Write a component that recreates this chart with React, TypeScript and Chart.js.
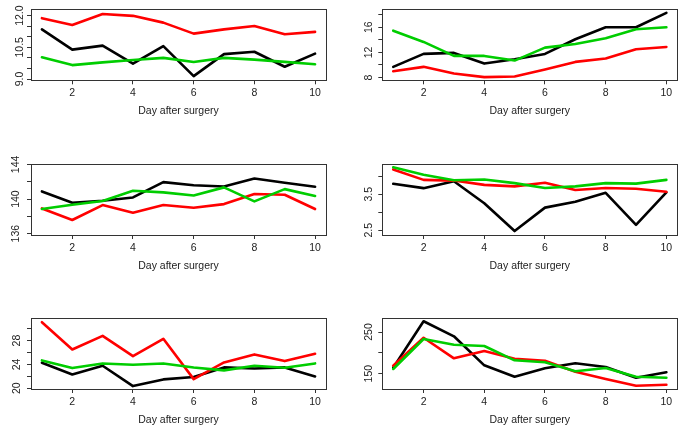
import React, { useEffect, useRef } from 'react';
import { Chart, registerables } from 'chart.js';

Chart.register(...registerables);

const FONT = '"Liberation Sans", Arial, Helvetica, sans-serif';
Chart.defaults.font.family = FONT;
Chart.defaults.font.size = 10.5;

// ---- data ----
const days = [1, 2, 3, 4, 5, 6, 7, 8, 9, 10];
const xTicks = [2, 4, 6, 8, 10];
const xTitle = 'Day after surgery';

const p1Black = [11.35, 10.39, 10.58, 9.73, 10.56, 9.14, 10.18, 10.29, 9.58, 10.2];
const p1Red = [11.88, 11.56, 12.08, 11.99, 11.67, 11.15, 11.35, 11.51, 11.12, 11.23];
const p1Green = [10.03, 9.66, 9.79, 9.9, 10.0, 9.81, 10.0, 9.92, 9.81, 9.7];
const p1YTicks = [9, 9.5, 10, 10.5, 11, 11.5, 12];
const p1YLabels = ['9.0', '10.5', '12.0'];

const p2Black = [9.7, 11.76, 11.92, 10.22, 10.92, 11.76, 14.1, 16.0, 16.0, 18.3];
const p2Red = [9.0, 9.7, 8.64, 8.06, 8.16, 9.27, 10.49, 11.02, 12.5, 12.87];
const p2Green = [15.46, 13.67, 11.44, 11.44, 10.7, 12.76, 13.35, 14.25, 15.68, 16.0];
const p2YTicks = [8, 10, 12, 14, 16, 18];
const p2YLabels = ['8', '12', '16'];

const p3Black = [140.88, 139.57, 139.8, 140.19, 141.96, 141.6, 141.46, 142.38, 141.88, 141.42];
const p3Red = [138.92, 137.58, 139.31, 138.42, 139.31, 139.0, 139.42, 140.58, 140.5, 138.85];
const p3Green = [138.85, 139.35, 139.77, 140.96, 140.77, 140.42, 141.35, 139.73, 141.15, 140.35];
const p3YTicks = [136, 138, 140, 142, 144];
const p3YLabels = ['136', '140', '144'];

const p4Black = [3.79, 3.67, 3.86, 3.25, 2.48, 3.13, 3.29, 3.54, 2.65, 3.55];
const p4Red = [4.19, 3.9, 3.88, 3.76, 3.72, 3.82, 3.62, 3.675, 3.655, 3.57];
const p4Green = [4.25, 4.04, 3.89, 3.91, 3.81, 3.675, 3.72, 3.81, 3.795, 3.9];
const p4YTicks = [2.5, 3, 3.5, 4];
const p4YLabels = ['2.5', '3.5'];

const p5Black = [24.28, 22.32, 23.78, 20.37, 21.49, 21.88, 23.5, 23.33, 23.5, 21.99];
const p5Red = [31.09, 26.51, 28.8, 25.4, 28.3, 21.54, 24.34, 25.68, 24.56, 25.79];
const p5Green = [24.67, 23.39, 24.17, 23.94, 24.17, 23.5, 23.0, 23.78, 23.44, 24.17];
const p5YTicks = [20, 22, 24, 26, 28, 30];
const p5YLabels = ['20', '24', '28'];

const p6Black = [164.4, 275.7, 239.7, 170.1, 142.8, 162.9, 174.9, 166.1, 140.4, 153.4];
const p6Red = [169.2, 236.3, 186.9, 204.4, 186.0, 181.2, 154.8, 137.3, 121.2, 123.6];
const p6Green = [161.3, 233.2, 219.6, 216.4, 182.1, 177.3, 155.8, 163.7, 142.8, 140.4];
const p6YTicks = [150, 200, 250];
const p6YLabels = ['150', '250'];

const COLORS = { black: '#000000', red: '#FF0000', green: '#00CD00' };

// ---- layout ----
type PanelCfg = {
  left: number; top: number; w: number; h: number;
  L: number; T: number; B: number; labelOff: number;
  yMin: number; yMax: number; yTicks: number[]; yLabels: string[];
  black: number[]; red: number[]; green: number[];
};

const COL = [
  { left: 0, w: 341, L: 31 },
  { left: 341, w: 342, L: 41.3 },
];
const ROW = [
  { top: 0, h: 125, T: 9.3, B: 44.7 },
  { top: 150, h: 130, T: 14, B: 45 },
  { top: 300, h: 129, T: 17.7, B: 40 },
];
const BOX_W = 295;

function mk(r: number, c: number, o: Omit<PanelCfg, 'left' | 'top' | 'w' | 'h' | 'L' | 'T' | 'B'>): PanelCfg {
  return { ...COL[c], ...ROW[r], ...o } as PanelCfg;
}

const panels: PanelCfg[] = [
  mk(0, 0, { labelOff: 10.7, yMin: 8.94, yMax: 12.3, yTicks: p1YTicks, yLabels: p1YLabels, black: p1Black, red: p1Red, green: p1Green }),
  mk(0, 1, { labelOff: 13.5, yMin: 7.56, yMax: 18.86, yTicks: p2YTicks, yLabels: p2YLabels, black: p2Black, red: p2Red, green: p2Green }),
  mk(1, 0, { labelOff: 14.5, yMin: 135.85, yMax: 144.05, yTicks: p3YTicks, yLabels: p3YLabels, black: p3Black, red: p3Red, green: p3Green }),
  mk(1, 1, { labelOff: 13.5, yMin: 2.37, yMax: 4.34, yTicks: p4YTicks, yLabels: p4YLabels, black: p4Black, red: p4Red, green: p4Green }),
  mk(2, 0, { labelOff: 13.7, yMin: 19.88, yMax: 31.84, yTicks: p5YTicks, yLabels: p5YLabels, black: p5Black, red: p5Red, green: p5Green }),
  mk(2, 1, { labelOff: 13.5, yMin: 113.3, yMax: 284.3, yTicks: p6YTicks, yLabels: p6YLabels, black: p6Black, red: p6Red, green: p6Green }),
];

function series(vals: number[]) {
  return days.map((d, i) => ({ x: d, y: vals[i] }));
}

function Panel({ cfg }: { cfg: PanelCfg }) {
  const ref = useRef<HTMLCanvasElement>(null);
  useEffect(() => {
    const canvas = ref.current!;
    const R = cfg.w - cfg.L - BOX_W;
    const lineDs = (label: string, vals: number[], color: string, order: number) => ({
      label,
      data: series(vals),
      borderColor: color,
      backgroundColor: color,
      borderWidth: 2.6,
      pointRadius: 0,
      pointHoverRadius: 0,
      tension: 0,
      fill: false,
      borderCapStyle: 'round' as const,
      borderJoinStyle: 'round' as const,
      order,
    });
    const boxPlugin = {
      id: 'rbox',
      afterDraw(chart: any) {
        const { ctx, chartArea: a, scales } = chart;
        const y = scales.y;
        ctx.save();
        ctx.strokeStyle = '#333';
        ctx.lineWidth = 1;
        const l = Math.round(a.left) + 0.5;
        const t = Math.round(a.top) + 0.5;
        const r = Math.round(a.right) + 0.5;
        const b = Math.round(a.bottom) + 0.5;
        ctx.strokeRect(l, t, r - l, b - t);
        ctx.fillStyle = '#222';
        ctx.font = `10.5px ${FONT}`;
        ctx.textAlign = 'center';
        ctx.textBaseline = 'middle';
        for (const lab of cfg.yLabels) {
          const py = y.getPixelForValue(parseFloat(lab));
          ctx.save();
          ctx.translate(a.left - cfg.labelOff, py);
          ctx.rotate(-Math.PI / 2);
          ctx.fillText(lab, 0, 0);
          ctx.restore();
        }
        ctx.restore();
      },
    };
    const chart = new Chart(canvas, {
      type: 'line',
      data: {
        datasets: [
          lineDs('black', cfg.black, COLORS.black, 2),
          lineDs('red', cfg.red, COLORS.red, 1),
          lineDs('green', cfg.green, COLORS.green, 0),
        ],
      },
      options: {
        animation: false,
        responsive: false,
        devicePixelRatio: 1,
        events: [],
        layout: { padding: { top: cfg.T, right: R, left: 0, bottom: 0 } },
        plugins: { legend: { display: false }, tooltip: { enabled: false }, title: { display: false } },
        scales: {
          x: {
            type: 'linear',
            min: 0.64,
            max: 10.36,
            bounds: 'data',
            afterBuildTicks: (s: any) => { s.ticks = xTicks.map((v) => ({ value: v })); },
            afterFit: (s: any) => { s.height = cfg.B; },
            ticks: { autoSkip: false, maxRotation: 0, minRotation: 0, padding: 3, color: '#222', font: { size: 10.5, family: FONT } },
            grid: { drawOnChartArea: false, drawTicks: true, tickLength: 4, color: '#333', lineWidth: 1 },
            border: { display: false },
            title: { display: true, text: xTitle, color: '#222', font: { size: 10.5, family: FONT }, padding: { top: 0, bottom: cfg.B - 31 - 6.3 } },
          },
          y: {
            type: 'linear',
            min: cfg.yMin,
            max: cfg.yMax,
            bounds: 'data',
            afterBuildTicks: (s: any) => { s.ticks = cfg.yTicks.map((v) => ({ value: v })); },
            afterFit: (s: any) => { s.width = cfg.L; },
            ticks: { display: false },
            grid: { drawOnChartArea: false, drawTicks: true, tickLength: 4, color: '#333', lineWidth: 1 },
            border: { display: false },
          },
        },
      },
      plugins: [boxPlugin],
    } as any);
    return () => chart.destroy();
  }, [cfg]);
  return (
    <canvas
      ref={ref}
      width={cfg.w}
      height={cfg.h}
      style={{ position: 'absolute', left: cfg.left, top: cfg.top, width: cfg.w, height: cfg.h, display: 'block' }}
    />
  );
}

export default function App() {
  return (
    <div style={{ position: 'absolute', left: 0, top: 0, width: 683, height: 429, background: '#fff', overflow: 'hidden' }}>
      {panels.map((p, i) => (
        <Panel key={i} cfg={p} />
      ))}
    </div>
  );
}
